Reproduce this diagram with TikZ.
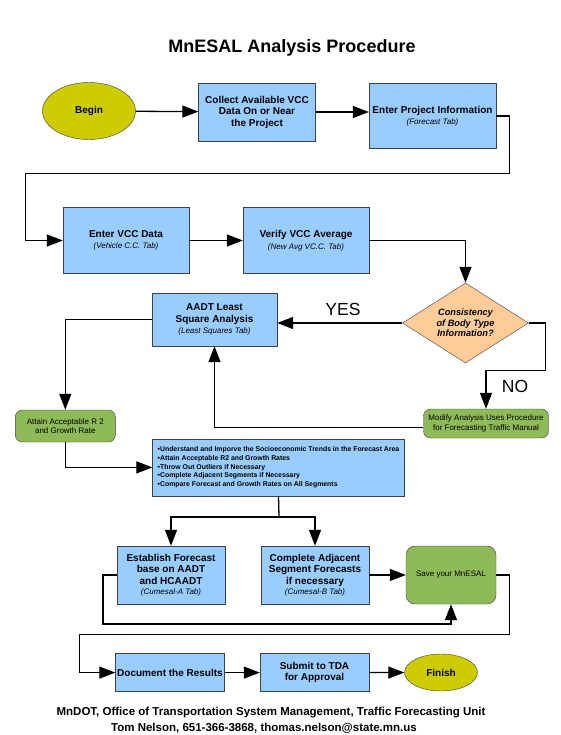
\documentclass[tikz,border=0pt]{standalone}
\usepackage{fontspec}
\setmainfont{Liberation Sans}
\usetikzlibrary{arrows.meta,positioning,shapes.geometric}

\definecolor{boxblue}{RGB}{153,204,255}
\definecolor{termyellow}{RGB}{204,204,0}
\definecolor{notegreen}{RGB}{143,186,88}
\definecolor{askorange}{RGB}{255,204,153}

\newcommand{\tabname}[1]{{\fontsize{8}{9}\selectfont\mdseries\itshape #1}}

\tikzset{
  block/.style={draw=black!75, fill=boxblue, align=center, inner sep=1pt,
    font=\bfseries\fontsize{10}{11.5}\selectfont},
  note/.style={draw=black!75, fill=notegreen, rounded corners=7pt, align=center,
    inner sep=1pt, font=\fontsize{8}{9.5}\selectfont},
  term/.style={draw=black!75, fill=termyellow, ellipse, inner sep=1pt,
    font=\bfseries\fontsize{10}{11.5}\selectfont},
  ask/.style={draw=black!75, fill=askorange, diamond, aspect=1.55, inner sep=0pt,
    align=center, font=\bfseries\itshape\fontsize{9.2}{10.5}\selectfont},
  flow/.style={-{Triangle[length=16pt,width=12pt]}, line width=1.3pt},
  link/.style={line width=1.3pt}
}

\begin{document}
\begin{tikzpicture}[x=1pt,y=-1pt]
  \useasboundingbox[fill=white] (0,0) rectangle (560,735);

  \node[font=\bfseries\fontsize{18}{20}\selectfont] (title) at (292,48) {MnESAL Analysis Procedure};

  % first row
  \node[term,minimum width=93pt,minimum height=57pt] (begin) at (89,111) {Begin};
  \node[block,minimum width=117pt,minimum height=58pt] (collect) at (257,112)
    {Collect Available VCC\\Data On or Near\\the Project};
  \node[block,minimum width=127pt,minimum height=65pt] (project) at (432.5,116)
    {Enter Project Information\\\tabname{(Forecast Tab)}};

  % second row
  \node[block,minimum width=126pt,minimum height=66pt] (vcc) at (126,240.5)
    {Enter VCC Data\\\tabname{(Vehicle C.C. Tab)}};
  \node[block,minimum width=126pt,minimum height=66pt] (verify) [right=180pt of vcc.center,anchor=center]
    {Verify VCC Average\\\tabname{(New Avg VC.C. Tab)}};

  % decision and least squares
  \node[ask,minimum width=126pt,minimum height=80pt] (consist) at (465.5,323)
    {Consistency\\of Body Type\\Information?};
  \node[block,minimum width=125pt,minimum height=53pt] (aadt) at (214.5,319.5)
    {AADT Least\\Square Analysis\\\tabname{(Least Squares Tab)}};
  \node[note,minimum width=125pt,minimum height=29pt] (modify) at (486,423.5)
    {Modify Analysis Uses Procedure\\for Forecasting Traffic Manual};
  \node[note,minimum width=100pt,minimum height=32pt] (attain) at (65.3,426)
    {Attain Acceptable R 2\\and Growth Rate};
  \node[font=\fontsize{17.5}{19}\selectfont] (yes) at (343,309) {YES};
  \node[font=\fontsize{17.5}{19}\selectfont] (no) at (515,386) {NO};

  % checks
  \node[block,minimum width=252pt,minimum height=57pt,align=left,
    font=\bfseries\fontsize{6.9}{8.6}\selectfont] (checks) at (278.5,467.4)
    {•Understand and Imporve the Socioeconomic Trends in the Forecast Area\\
     •Attain Acceptable R2 and Growth Rates\\
     •Throw Out Outliers if Necessary\\
     •Complete Adjacent Segments if Necessary\\
     •Compare Forecast and Growth Rates on All Segments};

  % forecasts
  \node[block,minimum width=108pt,minimum height=58pt] (establish) at (171,575)
    {Establish Forecast\\base on AADT\\and HCAADT\\[-1.5pt]\tabname{(Cumesal-A Tab)}};
  \node[block,minimum width=108pt,minimum height=58pt] (adjacent) [right=144pt of establish.center,anchor=center]
    {Complete Adjacent\\Segment Forecasts\\if necessary\\[-1.5pt]\tabname{(Cumesal-B Tab)}};
  \node[note,minimum width=90pt,minimum height=58pt,rounded corners=9pt] (save) at (451,575)
    {Save your MnESAL};

  % last row
  \node[block,minimum width=109pt,minimum height=38pt] (document) at (170,672.6)
    {Document the Results};
  \node[block,minimum width=109pt,minimum height=38pt] (submit) [right=144.5pt of document.center,anchor=center]
    {Submit to TDA\\for Approval};
  \node[term,minimum width=73pt,minimum height=37pt] (finish) at (441,672.5) {Finish};

  \node[font=\bfseries\fontsize{11.5}{13}\selectfont] (credit1) at (271,712.6)
    {MnDOT, Office of Transportation System Management, Traffic Forecasting Unit};
  \node[font=\bfseries\fontsize{11.5}{13}\selectfont] (credit2) at (264,728.4)
    {Tom Nelson, 651-366-3868, thomas.nelson@state.mn.us};

  % bend points
  \coordinate (c1) at (509.7,173.6);
  \coordinate (c2) at (25.8,173.6);
  \coordinate (c3) at (545.6,370.8);
  \coordinate (split) at (279,517);
  \coordinate (c4) at (103,624);
  \coordinate (c5) at (509.7,634.4);
  \coordinate (c6) at (79.7,634.4);

  \draw[flow] (begin) -- (collect);
  \draw[flow] (collect.east) -- (collect.east -| project.west);
  \draw[flow] (project.east) -| (c1) -- (c2) |- (vcc.west);
  \draw[flow] (vcc) -- (verify);
  \draw[flow] (verify.east) -| (consist.north);
  \draw[flow] (consist.west) -- (consist.west -| aadt.east);
  \draw[flow] (consist.east) -| (c3) -| (modify.north);
  \draw[flow] (aadt.west) -| (attain.north);
  \draw[flow] ([yshift=-4pt]modify.west) -| (aadt.south);
  \draw[flow] (attain.south) |- (checks.west);
  \draw[link] (checks.south) -- (split);
  \draw[flow] (split) -| (establish.north);
  \draw[flow] (split) -| (adjacent.north);
  \draw[flow] (adjacent) -- (save);
  \draw[flow] (establish.west) -| (c4) -| (save.south);
  \draw[flow] (save.east) -| (c5) -- (c6) |- (document.west);
  \draw[flow] (document) -- (submit);
  \draw[flow] (submit) -- (finish);
\end{tikzpicture}
\end{document}
